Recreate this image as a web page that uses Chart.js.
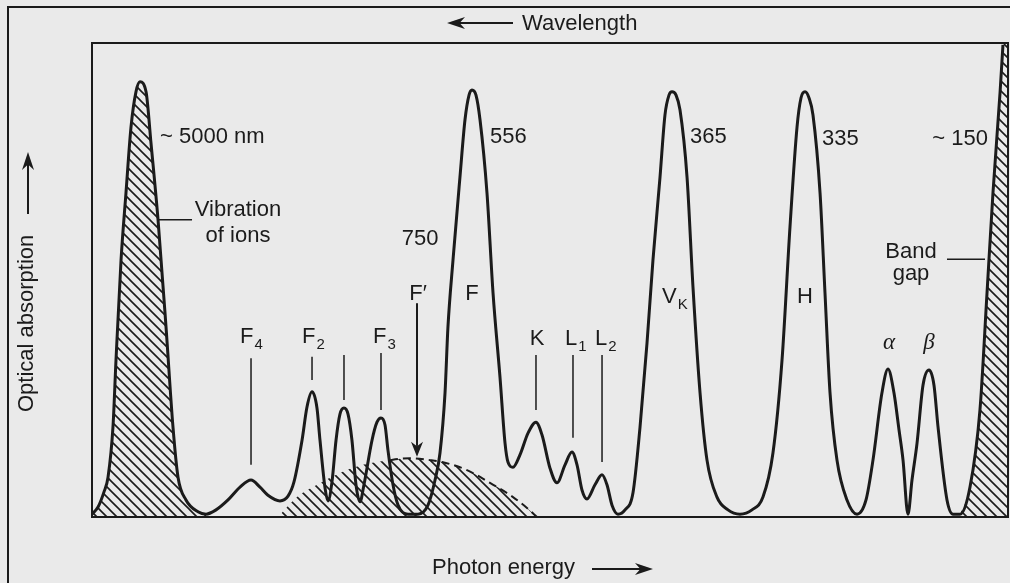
<!DOCTYPE html>
<html><head><meta charset="utf-8">
<script src="https://cdn.jsdelivr.net/npm/chart.js@4.4.1/dist/chart.umd.min.js"></script>
<style>html,body{margin:0;padding:0;background:#eaeaea;}canvas{display:block}</style>
</head><body>
<canvas id="c" width="1010" height="583"></canvas>
<script>
// Photon energy (arbitrary units, 0-100) and optical absorption (arbitrary units, 0-100)
const energy = [0,0.66,1.31,1.75,2.29,2.62,3.17,3.71,4.26,4.80,
5.24,5.90,6.44,7.21,8.08,8.84,9.39,10.26,11.57,12.45,
13.54,14.85,16.16,17.36,18.34,19.21,20.52,21.40,22.05,22.93,
23.47,24.02,24.56,24.89,25.44,25.76,26.20,26.64,27.07,27.51,
27.95,28.38,28.82,29.26,29.69,30.57,31.11,31.55,31.99,32.31,
32.86,33.41,34.50,35.59,36.68,37.45,37.99,38.54,38.86,39.41,
40.17,40.72,41.16,41.48,41.92,42.36,43.12,43.78,44.54,45.09,
45.41,45.96,46.72,47.60,48.47,49.13,50.00,50.76,51.64,52.40,
52.95,53.49,54.04,54.91,55.68,56.22,56.77,57.42,58.19,59.06,
59.83,60.59,61.24,62.01,62.55,62.99,63.32,63.76,64.19,64.96,
65.61,66.38,67.14,68.23,69.43,70.74,72.05,73.25,74.34,75.33,
76.20,76.97,77.40,77.84,78.28,78.71,79.48,80.02,80.57,81.33,
82.42,83.52,84.50,85.26,86.24,86.90,87.55,88.10,88.54,89.08,
89.52,90.07,90.72,91.38,91.92,92.36,93.34,94.00,94.76,95.85,
96.94,97.71,98.36,99.13,99.45];
const absorption = [0.6,2.1,5.3,8.4,19.0,33.1,54.2,68.4,82.3,89.7,
91.8,89.7,78.9,62.7,40.1,19.0,8.4,3.6,1.1,0.6,
1.5,3.6,6.3,7.8,6.3,4.6,3.4,4.4,7.4,16.2,
23.2,26.4,23.0,16.2,6.1,3.4,7.4,16.2,21.7,23.0,
21.7,16.2,6.8,3.2,6.8,16.2,20.0,20.9,19.4,14.1,
6.8,2.5,0.6,0.6,2.5,7.8,13.5,26.2,40.1,54.2,
71.7,83.8,89.0,90.1,89.0,83.8,68.4,47.3,29.5,15.6,
11.6,10.5,13.1,17.7,20.0,17.3,10.3,7.2,11.0,13.7,
11.0,5.7,3.8,6.8,8.9,6.8,2.5,0.6,1.5,5.1,
19.0,36.7,54.2,71.7,84.8,89.0,89.7,89.0,85.9,71.7,
48.5,26.2,12.0,4.2,1.5,0.6,1.5,4.2,13.5,33.1,
61.2,82.3,88.4,89.7,88.4,84.8,68.4,47.3,26.2,12.0,
3.6,0.6,3.6,12.0,26.2,31.2,26.2,18.4,12.0,0.6,
7.8,15.6,27.8,31.0,27.8,19.0,3.6,0.6,0.6,6.3,
22.6,47.3,68.4,89.5,99.6];
// F' band (broad dome under the F2/F3 region)
const domeEnergy = [20.31,22.38,24.56,27.07,29.59,32.53,34.72,36.90,38.21,40.94,43.45,45.96,47.49,48.58];
const domeAbsorption = [0,4.2,6.8,9.3,11.0,12.0,12.4,12.0,11.6,9.9,7.2,4.2,1.9,0];
// band-gap edge corner (absorption reaches the top of the frame)
const bandEdge = {x:100, y:100};
// peak names and wavelengths (nm)
const peakNames = ['F','F2','F3','F4',"F'",'K','L1','L2','VK','H','α','β'];
const peakWavelengths = ['~ 5000 nm','750','556','365','335','~ 150'];

const ink = '#1b1b1b';
const FONT = '22px "Liberation Sans", Arial, sans-serif';
const SUBFONT = '15px "Liberation Sans", Arial, sans-serif';
const GREEK = 'italic 23px "Liberation Serif", serif';

const mainPts = energy.map((e,i)=>({x:e, y:absorption[i]}));
const vibPts = mainPts.slice(0,20);
const gapPts = mainPts.slice(138).concat([bandEdge]);
const domePts = domeEnergy.map((e,i)=>({x:e, y:domeAbsorption[i]}));

const cv = document.getElementById('c');
function hatch(){
  const t=document.createElement('canvas'); t.width=10; t.height=10;
  const g=t.getContext('2d'); g.strokeStyle=ink; g.lineWidth=1.6;
  g.beginPath();
  g.moveTo(-2,-2); g.lineTo(12,12);
  g.moveTo(-7,3); g.lineTo(7,17);
  g.moveTo(3,-7); g.lineTo(17,7);
  g.stroke();
  return cv.getContext('2d').createPattern(t,'repeat');
}
const pat = hatch();

function head(ctx, tx, ty, dx, dy, L=15, W=5.5){
  const nx=-dy, ny=dx;
  ctx.beginPath();
  ctx.moveTo(tx,ty);
  ctx.lineTo(tx-L*dx+W*nx, ty-L*dy+W*ny);
  ctx.lineTo(tx-0.7*L*dx, ty-0.7*L*dy);
  ctx.lineTo(tx-L*dx-W*nx, ty-L*dy-W*ny);
  ctx.closePath(); ctx.fill();
}

const annot = {
  id:'annot',
  afterDatasetsDraw(chart){
    const {ctx, chartArea:a, scales:{x,y}} = chart;
    const X=v=>x.getPixelForValue(v), Y=v=>y.getPixelForValue(v);
    ctx.save();
    ctx.strokeStyle=ink; ctx.fillStyle=ink; ctx.textBaseline='alphabetic';
    // plot frame
    ctx.lineWidth=2;
    ctx.strokeRect(a.left, a.top, a.right-a.left, a.bottom-a.top);
    // outer frame
    ctx.beginPath(); ctx.moveTo(a.left-84, 583); ctx.lineTo(a.left-84, 7); ctx.lineTo(1010, 7); ctx.stroke();

    const txt=(s,px,py,al='left',f=FONT)=>{ctx.font=f; ctx.textAlign=al; ctx.fillText(s,px,py);};
    const sub=(m,s,px,py)=>{ctx.font=FONT; ctx.textAlign='left'; ctx.fillText(m,px,py); const w=ctx.measureText(m).width; ctx.font=SUBFONT; ctx.fillText(s,px+w+1,py+6);};
    const vline=(e,a1,a2)=>{ctx.beginPath(); ctx.moveTo(X(e),Y(a1)); ctx.lineTo(X(e),Y(a2)); ctx.stroke();};
    const hline=(e1,e2,v)=>{ctx.beginPath(); ctx.moveTo(X(e1),Y(v)); ctx.lineTo(X(e2),Y(v)); ctx.stroke();};

    // wavelength labels
    txt(peakWavelengths[0], X(7.42), Y(78.9));
    txt(peakWavelengths[1], X(35.81), Y(57.4), 'center');
    txt(peakWavelengths[2], X(43.45), Y(78.9));
    txt(peakWavelengths[3], X(65.28), Y(78.9));
    txt(peakWavelengths[4], X(79.69), Y(78.5));
    txt(peakWavelengths[5], X(97.82), Y(78.5), 'right');
    // descriptive labels
    txt('Vibration', X(15.94), Y(63.5), 'center');
    txt('of ions', X(15.94), Y(58.0), 'center');
    txt('Band', X(89.41), Y(54.6), 'center');
    txt('gap', X(89.41), Y(50.0), 'center');
    // peak names
    txt(peakNames[0], X(41.48), Y(45.8), 'center');
    sub('F', peakNames[1].slice(1), X(22.93), Y(36.7));
    sub('F', peakNames[2].slice(1), X(30.68), Y(36.7));
    sub('F', peakNames[3].slice(1), X(16.16), Y(36.7));
    txt(peakNames[4].replace("'", '′'), X(35.59), Y(45.8), 'center');
    txt(peakNames[5], X(48.58), Y(36.3), 'center');
    sub('L', peakNames[6].slice(1), X(51.64), Y(36.3));
    sub('L', peakNames[7].slice(1), X(54.91), Y(36.3));
    sub('V', peakNames[8].slice(1), X(62.23), Y(45.1));
    txt(peakNames[9], X(77.84), Y(45.1), 'center');
    txt(peakNames[10], X(87.01), Y(35.4), 'center', GREEK);
    txt(peakNames[11], X(91.38), Y(35.4), 'center', GREEK);

    // leader lines
    ctx.lineWidth=1.5;
    hline(7.10, 10.92, 62.7);
    hline(93.34, 97.49, 54.4);
    vline(17.36, 33.5, 11.0);
    vline(24.02, 33.8, 28.9);
    vline(27.51, 34.2, 24.7);
    vline(31.55, 34.6, 22.6);
    vline(48.47, 34.2, 22.6);
    vline(52.51, 34.2, 16.7);
    vline(55.68, 34.2, 11.6);
    // F' arrow
    ctx.lineWidth=2;
    vline(35.48, 45.1, 15.0);
    head(ctx, X(35.48), Y(12.7), 0, 1, 15, 6);

    // outer axis texts and arrows
    txt('Wavelength', 522, 30);
    ctx.beginPath(); ctx.moveTo(455,23); ctx.lineTo(513,23); ctx.stroke();
    head(ctx, 447, 23, -1, 0, 18, 6);
    txt('Photon energy', 432, 574);
    ctx.beginPath(); ctx.moveTo(592,569); ctx.lineTo(645,569); ctx.stroke();
    head(ctx, 653, 569, 1, 0, 18, 6);
    ctx.save(); ctx.translate(33, 412); ctx.rotate(-Math.PI/2);
    txt('Optical absorption', 0, 0); ctx.restore();
    ctx.beginPath(); ctx.moveTo(28,214); ctx.lineTo(28,160); ctx.stroke();
    head(ctx, 28, 152, 0, -1, 18, 6);
    ctx.restore();
  }
};

new Chart(cv, {
  type:'line',
  data:{datasets:[
    {data:mainPts, borderColor:ink, borderWidth:3, pointRadius:0, fill:false, cubicInterpolationMode:'monotone', order:0},
    {data:vibPts, borderWidth:0, borderColor:'rgba(0,0,0,0)', pointRadius:0, fill:'origin', backgroundColor:pat, cubicInterpolationMode:'monotone', order:1},
    {data:gapPts, borderWidth:0, borderColor:'rgba(0,0,0,0)', pointRadius:0, fill:'origin', backgroundColor:pat, cubicInterpolationMode:'monotone', order:2},
    {data:domePts, borderWidth:2, borderColor:ink, pointRadius:0, fill:'origin', backgroundColor:pat, cubicInterpolationMode:'monotone', order:3,
      segment:{borderColor:c=>c.p0.parsed.x<32.5?'rgba(0,0,0,0)':ink, borderDash:c=>[8,5]}}
  ]},
  options:{
    responsive:false, animation:false, devicePixelRatio:1,
    layout:{padding:{left:92, top:43, right:2, bottom:66}},
    plugins:{legend:{display:false}, tooltip:{enabled:false}},
    scales:{
      x:{type:'linear', min:0, max:100, display:false},
      y:{min:0, max:100, display:false}
    }
  },
  plugins:[annot]
});
</script>
</body></html>
